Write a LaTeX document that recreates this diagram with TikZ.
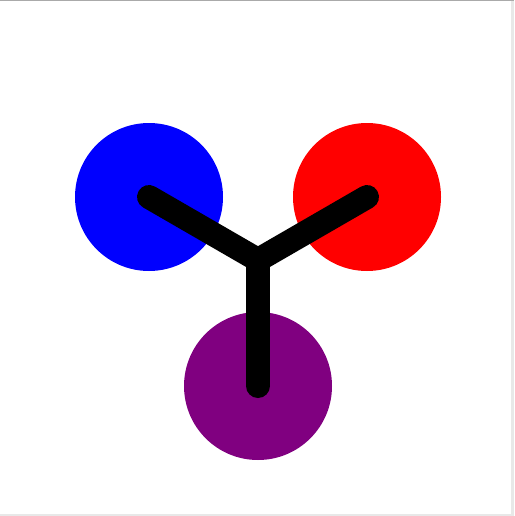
\documentclass[tikz,border=0pt]{standalone}
\usepackage{tikz}
\definecolor{violetball}{RGB}{128,0,128}
\definecolor{edgegray}{RGB}{170,170,170}
\definecolor{framegray}{RGB}{232,232,232}

\begin{document}
\begin{tikzpicture}[x=1pt,y=-1pt,
  ball/.style={circle,inner sep=0pt,minimum size=148pt,draw=none},
  bond/.style={line width=24pt,line cap=round,line join=miter}]
\useasboundingbox (0,0) rectangle (514,516);
\fill [white] (0,0) rectangle (514,516);
% screenshot frame
\fill [framegray] (511,0) rectangle (514,516);
\fill [framegray] (0,514) rectangle (514,516);
\fill [edgegray] (0,0) rectangle (514,1.2);

\node [ball,fill=blue] (b) at (149,197) {};
\node [ball,fill=red] (r) at (367,197) {};
\node [ball,fill=violetball] (p) at (258,386) {};
\coordinate (j) at (258,260);

\draw [bond] (b.center) -- (j) -- (r.center);
\draw [bond] (j) -- (p.center);
\end{tikzpicture}
\end{document}
